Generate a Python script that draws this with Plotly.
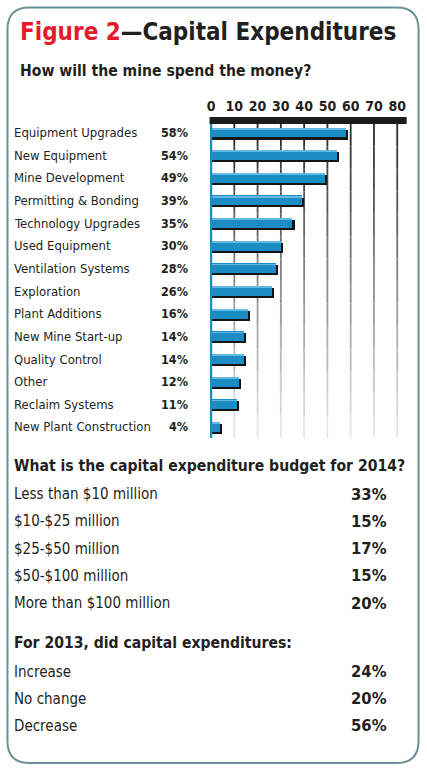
import plotly.graph_objects as go

W, H = 427, 771

# ---------------- data ----------------
categories = ["Equipment Upgrades", "New Equipment", "Mine Development", "Permitting & Bonding",
              "Technology Upgrades", "Used Equipment", "Ventilation Systems", "Exploration",
              "Plant Additions", "New Mine Start-up", "Quality Control", "Other",
              "Reclaim Systems", "New Plant Construction"]
values = [58, 54, 49, 39, 35, 30, 28, 26, 16, 14, 14, 12, 11, 4]
tick_vals = [0, 10, 20, 30, 40, 50, 60, 70, 80]

budget_labels = ["Less than $10 million", "$10-$25 million", "$25-$50 million",
                 "$50-$100 million", "More than $100 million"]
budget_values = [33, 15, 17, 15, 20]

change_labels = ["Increase", "No change", "Decrease"]
change_values = [24, 20, 56]

title_red = "Figure 2"
title_rest = "—Capital Expenditures"
q1 = "How will the mine spend the money?"
q2 = "What is the capital expenditure budget for 2014?"
q3 = "For 2013, did capital expenditures:"

# ---------------- style ----------------
NARROW = "Liberation Sans Narrow, Arial Narrow, DejaVu Sans Condensed, sans-serif"
RED = "#e31b2c"
BLUE = "#1b8dc4"
LIGHT_BLUE = "#62b9e2"
SHADOW = "#141414"
BORDER = "#6a9196"
TXT = "#231f20"


def px(x):
    return x / W


def py(y):
    return 1 - y / H


# geometry of chart area (pixels)
X0_PX, X_SCALE = 209.5, 2.344        # px at value 0, px per unit
ROW0_PX, ROW_STEP = 132.5, 22.65
PLOT_TOP, PLOT_BOT = 117, 438
XMIN, XMAX = -0.6, (406.5 - X0_PX) / X_SCALE
dom_x = [px(X0_PX + XMIN * X_SCALE), px(X0_PX + XMAX * X_SCALE)]
y_top = (PLOT_TOP - ROW0_PX) / ROW_STEP
y_bot = (PLOT_BOT - ROW0_PX) / ROW_STEP

idx = list(range(len(categories)))

fig = go.Figure()
# shadow
fig.add_trace(go.Bar(orientation="h", y=[i + 0.09 for i in idx], x=[v + 0.9 for v in values],
                     width=0.44, marker=dict(color=SHADOW, line=dict(width=0)), hoverinfo="skip"))
# main bar
fig.add_trace(go.Bar(orientation="h", y=idx, x=values, width=0.44,
                     marker=dict(color=BLUE, line=dict(width=0)), hoverinfo="skip"))
# highlight strip
fig.add_trace(go.Bar(orientation="h", y=[i - 0.17 for i in idx], x=[v - 0.4 for v in values],
                     base=0.4, width=0.08, marker=dict(color=LIGHT_BLUE, line=dict(width=0)),
                     hoverinfo="skip"))

shapes = []
# rounded border
r = 22
L, R, T, B = 4.5, 418.5, 7.5, 763
path = (f"M {px(L+r)},{py(T)} L {px(R-r)},{py(T)} Q {px(R)},{py(T)} {px(R)},{py(T+r)} "
        f"L {px(R)},{py(B-r)} Q {px(R)},{py(B)} {px(R-r)},{py(B)} "
        f"L {px(L+r)},{py(B)} Q {px(L)},{py(B)} {px(L)},{py(B-r)} "
        f"L {px(L)},{py(T+r)} Q {px(L)},{py(T)} {px(L+r)},{py(T)} Z")
shapes.append(dict(type="path", xref="paper", yref="paper", path=path,
                   line=dict(color=BORDER, width=2), layer="below"))

# gradient gridlines
NSEG = 14
g_top, g_bot = 124, PLOT_BOT
for tv in tick_vals[1:]:
    for s in range(NSEG):
        f = s / (NSEG - 1)
        c = int(45 + f * (230 - 45))
        ya = g_top + (g_bot - g_top) * s / NSEG
        yb = g_top + (g_bot - g_top) * (s + 1) / NSEG
        shapes.append(dict(type="line", xref="x", yref="paper", x0=tv, x1=tv,
                           y0=py(ya), y1=py(yb), line=dict(color=f"rgb({c},{c},{c})", width=1.8),
                           layer="below"))
# black header bar
shapes.append(dict(type="rect", xref="paper", yref="paper", x0=px(208), x1=px(406.5),
                   y0=py(124), y1=py(117), fillcolor="#1c1c1c", line=dict(width=0), layer="above"))
# blue zero axis line
shapes.append(dict(type="line", xref="x", yref="paper", x0=0, x1=0, y0=py(124), y1=py(PLOT_BOT),
                   line=dict(color=BLUE, width=2.4), layer="above"))

ann = []


def text(x, y, s, size, color=TXT, bold=False, anchor="left", yref="paper", family=NARROW):
    ann.append(dict(x=x, y=y, xref="paper", yref=yref, text=s,
                    showarrow=False, xanchor=anchor, yanchor="middle",
                    font=dict(family=family, size=size, color=color,
                              weight="bold" if bold else "normal")))


# title
ann.append(dict(x=px(15), y=py(32), xref="paper", yref="paper", showarrow=False,
                xanchor="left", yanchor="middle",
                text=f"<span style='color:{RED}'>{title_red}</span>{title_rest}",
                font=dict(family=NARROW, size=24, color=TXT, weight="bold")))
text(px(15), py(70.5), q1, 15.6, bold=True)

for i, (c, v) in enumerate(zip(categories, values)):
    text(px(9), i, c, 13, yref="y")
    text(px(188), i, f"{v}%", 12.5, bold=True, anchor="right", yref="y")

text(px(9), py(466), q2, 15.6, bold=True)
for k, (lab, v) in enumerate(zip(budget_labels, budget_values)):
    yy = 494 + k * 27.3
    text(px(9), py(yy), lab, 15)
    text(px(389), py(yy), f"{v}%", 16.5, bold=True, anchor="right")

text(px(9), py(642.5), q3, 15.6, bold=True)
for k, (lab, v) in enumerate(zip(change_labels, change_values)):
    yy = 671.5 + k * 27
    text(px(9), py(yy), lab, 15)
    text(px(389), py(yy), f"{v}%", 16.5, bold=True, anchor="right")

fig.update_layout(
    width=W, height=H, margin=dict(l=0, r=0, t=0, b=0),
    paper_bgcolor="white", plot_bgcolor="rgba(0,0,0,0)",
    barmode="overlay", bargap=0, showlegend=False,
    xaxis=dict(domain=dom_x, range=[XMIN, XMAX], side="top", tickvals=tick_vals,
               tickfont=dict(family=NARROW, size=14, color=TXT, weight="bold"), showgrid=False,
               zeroline=False, showline=False, ticks="", fixedrange=True, ticklabelstandoff=2),
    yaxis=dict(domain=[py(PLOT_BOT), py(PLOT_TOP)], range=[y_bot, y_top], showticklabels=False,
               showgrid=False, zeroline=False, showline=False, ticks="", fixedrange=True),
    shapes=shapes, annotations=ann,
)

fig.write_html("out.html", config=dict(displayModeBar=False, staticPlot=True),
               post_script="document.body.style.margin='0';document.body.style.overflow='hidden';")
